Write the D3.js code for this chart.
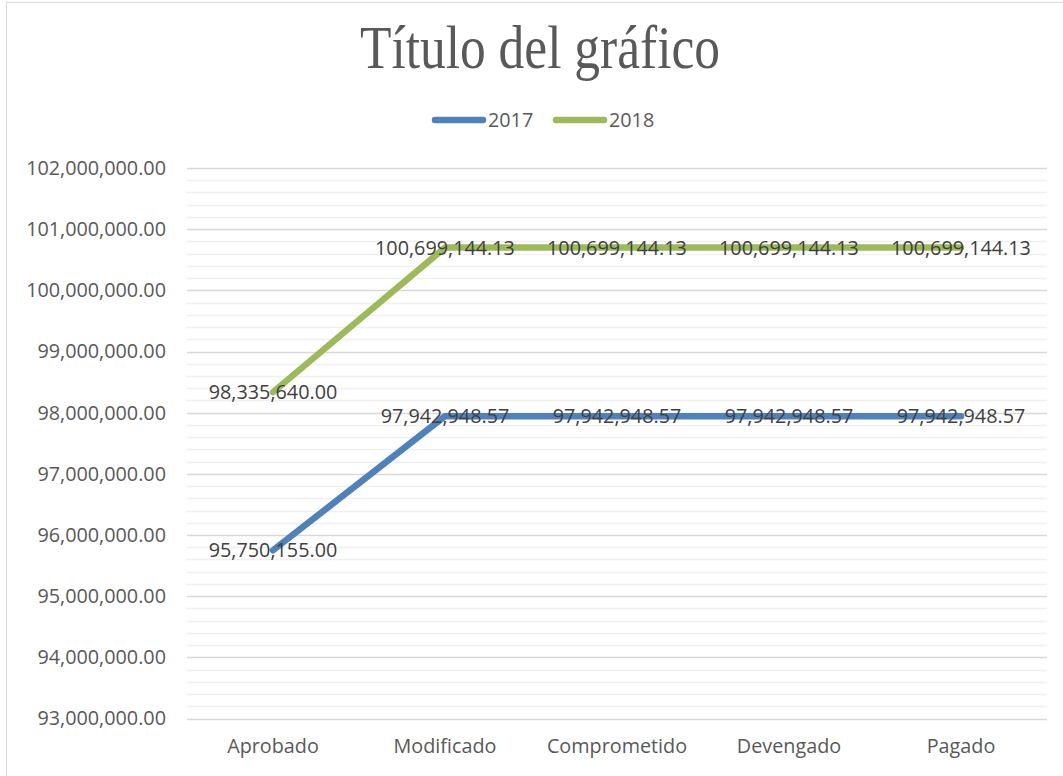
<!DOCTYPE html>
<html><head><meta charset="utf-8">
<script src="https://cdn.jsdelivr.net/npm/d3@7"></script>
<style>body{margin:0;background:#fff}svg{display:block}</style>
</head><body>
<script>
const categories = ["Aprobado","Modificado","Comprometido","Devengado","Pagado"];
const values2017 = [95750155.00, 97942948.57, 97942948.57, 97942948.57, 97942948.57];
const values2018 = [98335640.00, 100699144.13, 100699144.13, 100699144.13, 100699144.13];
const seriesNames = ["2017","2018"];
const seriesColors = ["#4f81bd","#9bbb59"];
const yTicks = [93e6,94e6,95e6,96e6,97e6,98e6,99e6,100e6,101e6,102e6];
const yMin = 93e6, yMax = 102e6, minorStep = 2e5;

const W = 1063, H = 776;
const svg = d3.select("body").append("svg").attr("width", W).attr("height", H);
svg.append("rect").attr("x",6.5).attr("y",2.5).attr("width",W+10).attr("height",H+10)
  .attr("fill","#fff").attr("stroke","#d9d9d9").attr("stroke-width",1);

const pLeft = 187, pRight = 1047, pTop = 168, pBottom = 718.5;
const x = d3.scaleBand().domain(categories).range([pLeft,pRight]);
const y = d3.scaleLinear().domain([yMin,yMax]).range([pBottom,pTop]);

// minor gridlines
const minor = d3.range(yMin, yMax + 1, minorStep).filter(v => Math.round(v) % 1e6 !== 0);
svg.append("g").selectAll("line").data(minor).join("line")
  .attr("x1",pLeft).attr("x2",pRight).attr("y1",d=>Math.round(y(d))+0.5).attr("y2",d=>Math.round(y(d))+0.5)
  .attr("stroke","#f0f0f0").attr("stroke-width",1.5);
// major gridlines
svg.append("g").selectAll("line").data(yTicks).join("line")
  .attr("x1",pLeft).attr("x2",pRight).attr("y1",d=>Math.round(y(d))+0.5).attr("y2",d=>Math.round(y(d))+0.5)
  .attr("stroke","#d9d9d9").attr("stroke-width",1.5);

const fmt = d3.format(",.2f");
const font = "'Open Sans', 'DejaVu Sans', sans-serif";
const fs = "19.8px";

// y axis
const yAxis = d3.axisLeft(y).tickValues(yTicks).tickFormat(fmt).tickSize(0).tickPadding(21);
const gy = svg.append("g").attr("transform",`translate(${pLeft},0)`).call(yAxis);
gy.select(".domain").remove();
gy.selectAll("text").attr("fill","#595959").style("font-family",font).style("font-size",fs);

// x axis
const xAxis = d3.axisBottom(x).tickSize(0).tickPadding(20);
const gx = svg.append("g").attr("transform",`translate(0,${pBottom})`).call(xAxis);
gx.select(".domain").remove();
gx.selectAll("text").attr("fill","#595959").style("font-family",font).style("font-size",fs);

// lines
const series = [values2017, values2018];
const line = d3.line().x((d,i)=>x(categories[i])+x.bandwidth()/2).y(d=>y(d));
series.forEach((vals,si)=>{
  svg.append("path").datum(vals).attr("d",line).attr("fill","none")
    .attr("stroke",seriesColors[si]).attr("stroke-width",6.5)
    .attr("stroke-linecap","round").attr("stroke-linejoin","round");
});
// labels
series.forEach((vals,si)=>{
  svg.append("g").selectAll("text").data(vals).join("text")
    .attr("x",(d,i)=>x(categories[i])+x.bandwidth()/2)
    .attr("y",d=>y(d)).attr("dy","0.36em")
    .attr("text-anchor","middle").attr("fill","#404040")
    .style("font-family",font).style("font-size",fs)
    .text(d=>fmt(d));
});

// title
svg.append("text").attr("text-anchor","middle")
  .attr("transform","translate(540,68) scale(0.83,1)")
  .attr("fill","#595959").style("font-family","'Liberation Serif', 'DejaVu Serif', serif")
  .style("font-size","62px").text("Título del gráfico");

// legend
const legX = [432, 553];
seriesNames.forEach((n,i)=>{
  const g = svg.append("g");
  g.append("line").attr("x1",legX[i]+3).attr("x2",legX[i]+51).attr("y1",120).attr("y2",120)
    .attr("stroke",seriesColors[i]).attr("stroke-width",6.5).attr("stroke-linecap","round");
  g.append("text").attr("x",legX[i]+56).attr("y",120).attr("dy","0.36em")
    .attr("fill","#595959").style("font-family",font).style("font-size",fs).text(n);
});
</script>
</body></html>
